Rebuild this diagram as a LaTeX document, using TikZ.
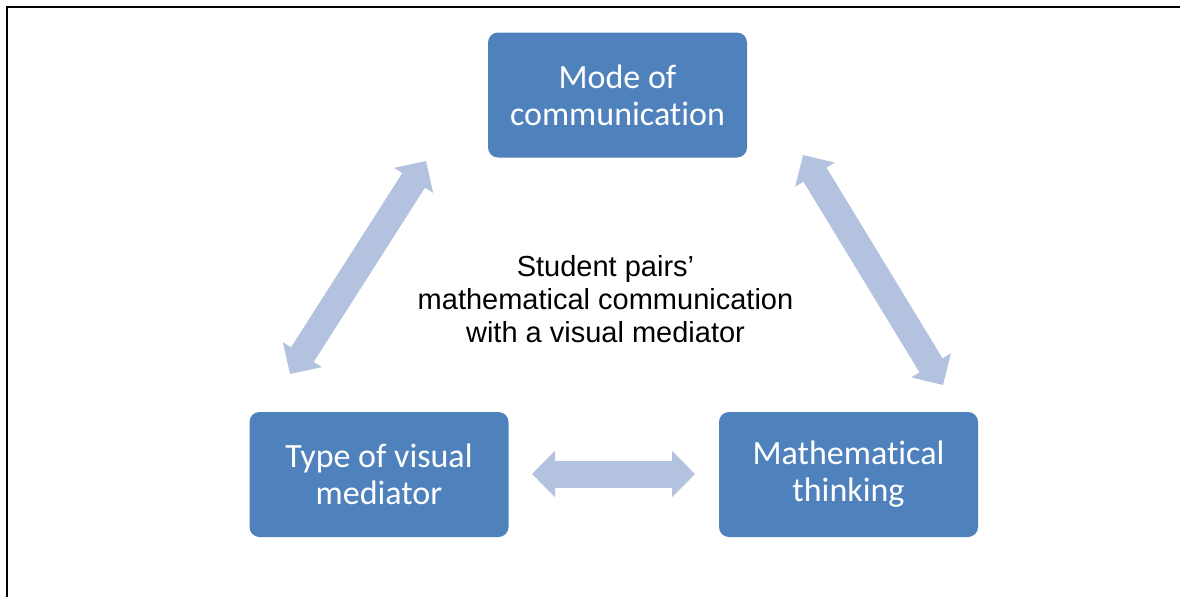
\documentclass[tikz,border=0pt]{standalone}
\usepackage{fontspec}
\setmainfont{Liberation Sans}
\newfontfamily\boxfont[Ligatures={NoCommon,NoContextual}]{Carlito}
\usetikzlibrary{arrows.meta}
\definecolor{boxblue}{HTML}{4F81BD}
\definecolor{arrowblue}{HTML}{B3C2DE}
\begin{document}
\begin{tikzpicture}[x=1pt,y=-1pt,
  box/.style={fill=boxblue, rounded corners=10pt, minimum width=259pt, minimum height=125pt,
    inner sep=0pt, align=center, text=white, font=\boxfont\fontsize{34}{37}\selectfont},
  dblarrow/.style={draw=arrowblue, line width=27pt,
    {Triangle[width=45pt,length=23pt]}-{Triangle[width=45pt,length=23pt]}},
  frameline/.style={draw=black, line width=2.5pt}
]
\useasboundingbox (0,0) rectangle (1180,597);
\draw[frameline] (1180,7) -- (7,7) -- (7,597);

\node[box] (mode) at (617.5,95) {Mode of\\communication};
\node[box] (type) at (379,474.5) {Type of visual\\mediator};
\node[box] (math) at (848.5,474.5) {Mathematical\\thinking};
\node[font=\fontsize{29}{33}\selectfont, align=center, inner sep=0pt] (center) at (605.5,299)
  {Student pairs’\\mathematical communication\\with a visual mediator};

\coordinate (l1) at (290,374);
\coordinate (l2) at (426,161);
\coordinate (r1) at (803,155);
\coordinate (r2) at (943,385);
\coordinate (h1) at (532,474);
\coordinate (h2) at (695,474);
\draw[dblarrow] (l1) -- (l2);
\draw[dblarrow] (r1) -- (r2);
\draw[dblarrow] (h1) -- (h2);
\end{tikzpicture}
\end{document}
